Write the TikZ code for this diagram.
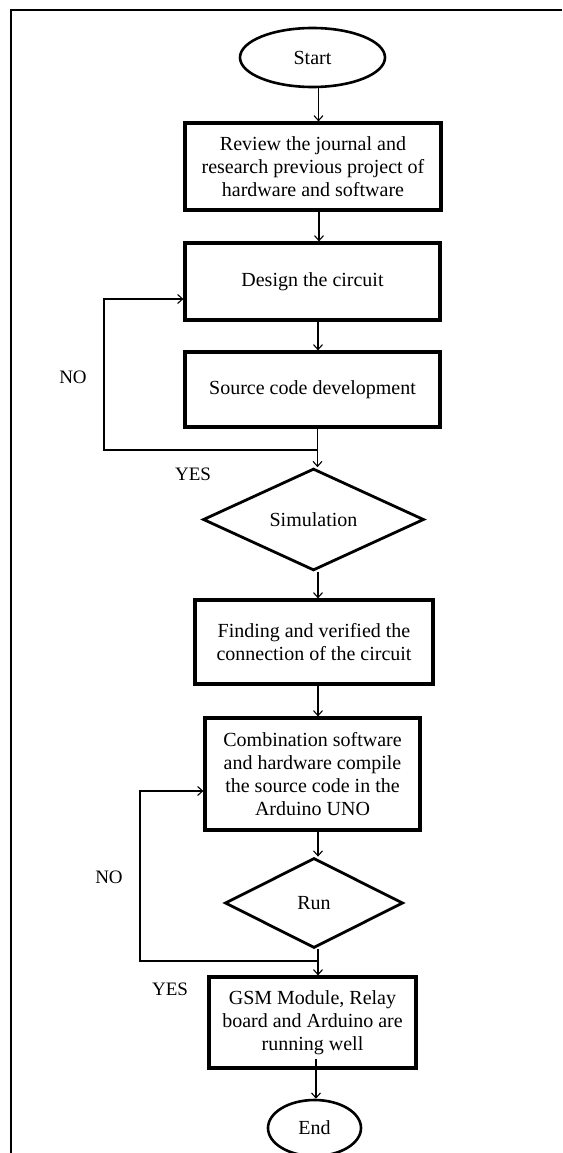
\documentclass[tikz,border=0pt]{standalone}
\usepackage{fontspec}
\setmainfont{Liberation Serif}
\usetikzlibrary{shapes.geometric,arrows.meta}
\begin{document}
\begin{tikzpicture}[x=1pt,y=-1pt,
  every node/.style={font=\fontsize{20}{23}\selectfont, align=center, inner sep=0pt},
  procbox/.style={draw, line width=3.2pt, rectangle},
  termin/.style={draw, line width=2.6pt, ellipse},
  decis/.style={draw, line width=2.8pt, diamond},
  conn/.style={draw, line width=1.1pt, -{Straight Barb[length=5pt,width=9pt]}},
  lbl/.style={font=\fontsize{19}{22}\selectfont}
]
\useasboundingbox (0,0) rectangle (562,1153);
\fill[white] (0,0) rectangle (562,1153);
% frame (top and left only visible)
\draw[line width=1.8pt] (11,1153) -- (11,10) -- (562,10);

\node[termin, minimum width=145pt, minimum height=59pt] (start) at (312.5,57.5) {Start};
\node[procbox, minimum width=256pt, minimum height=87pt] (review) at (313,166.5)
  {Review the journal and\\research previous project of\\hardware and software};
\node[procbox, minimum width=255pt, minimum height=77pt] (design) at (312.5,281.5) {Design the circuit};
\node[procbox, minimum width=255pt, minimum height=75pt] (source) at (312.5,389.5) {Source code development};
\node[decis, minimum width=221pt, minimum height=99pt] (sim) at (313.5,519.5) {Simulation};
\node[procbox, minimum width=238pt, minimum height=84pt] (finding) at (314,642)
  {Finding and verified the\\connection of the circuit};
\node[procbox, minimum width=215pt, minimum height=112pt] (combo) at (312.5,774)
  {Combination software\\and hardware compile\\the source code in the\\Arduino UNO};
\node[decis, minimum width=178pt, minimum height=90pt] (run) at (314,903) {Run};
\node[procbox, minimum width=207pt, minimum height=91pt] (gsm) at (312.5,1022.5)
  {GSM Module, Relay\\board and Arduino are\\running well};
\node[termin, minimum width=93pt, minimum height=56pt] (end) at (314.5,1128) {End};

% labels
\node[lbl] (no1) at (73,377) {NO};
\node[lbl] (yes1) at (193,474) {YES};
\node[lbl] (no2) at (109,877) {NO};
\node[lbl] (yes2) at (170,989) {YES};

% junction coordinates
\coordinate (j1) at (318,450);
\coordinate (l1b) at (104,450);
\coordinate (l1t) at (104,299);
\coordinate (j2) at (318,961);
\coordinate (l2b) at (140,961);
\coordinate (l2t) at (140,791);

% main flow
\draw[conn] ([xshift=6pt]start.south) -- ([xshift=6pt]start.south |- review.north);
\draw[conn] ([xshift=6pt]review.south) -- ([xshift=6pt]review.south |- design.north);
\draw[conn] ([xshift=5.5pt]design.south) -- ([xshift=5.5pt]design.south |- source.north);
\draw[conn] ([xshift=5pt]source.south) -- ([xshift=5pt]source.south |- sim.north);
\draw[conn] ([xshift=4.5pt]sim.south) -- ([xshift=4.5pt]sim.south |- finding.north);
\draw[conn] ([xshift=4pt]finding.south) -- ([xshift=4pt]finding.south |- combo.north);
\draw[conn] ([xshift=5.5pt]combo.south) -- ([xshift=5.5pt]combo.south |- run.north);
\draw[conn] ([xshift=4pt]run.south) -- ([xshift=4pt]run.south |- gsm.north);
\draw[conn] ([xshift=3.5pt,yshift=11pt]gsm.south) -- ([xshift=3.5pt]gsm.south |- end.north);

% feedback loops
\draw[conn] (j1) -- (l1b) -- (l1t) -- (design.west |- l1t);
\draw[conn] (j2) -- (l2b) -- (l2t) -- (combo.west |- l2t);
\end{tikzpicture}
\end{document}
